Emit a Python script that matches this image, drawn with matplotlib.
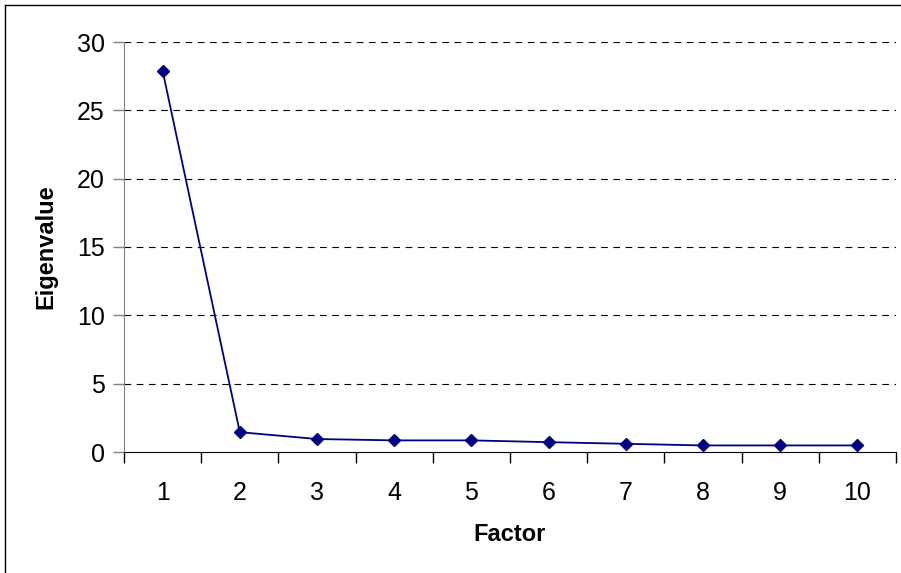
import matplotlib.pyplot as plt
from matplotlib.lines import Line2D

factors = [1, 2, 3, 4, 5, 6, 7, 8, 9, 10]
eigenvalues = [27.9, 1.45, 0.95, 0.85, 0.85, 0.72, 0.6, 0.48, 0.48, 0.48]
y_ticks = [0, 5, 10, 15, 20, 25, 30]

plt.rcParams['font.family'] = ['Liberation Sans', 'DejaVu Sans']

fig = plt.figure(figsize=(9.01, 5.73), dpi=100)
ax = fig.add_axes([124 / 901, 1 - 452 / 573, (896 - 124) / 901, (452 - 42) / 573])

ax.plot(factors, eigenvalues, color='#000080', linewidth=1.3,
        marker='D', markersize=6.5, markerfacecolor='#000080', markeredgecolor='#000080')

ax.set_xlim(0.5, 10.5)
ax.set_ylim(0, 30)
ax.set_yticks(y_ticks)
ax.set_xticks([f - 0.5 for f in factors] + [10.5])
ax.set_xticklabels([])
ax.set_xticks(factors, minor=True)
ax.set_xticklabels([str(f) for f in factors], minor=True)
ax.tick_params(axis='x', which='minor', length=0, pad=21, labelsize=18)
ax.tick_params(axis='x', which='major', length=8, width=1, color='black', direction='out')
ax.tick_params(axis='y', length=8, width=1, color='#808080', labelsize=18, pad=6)

for y in y_ticks[1:]:
    ax.axhline(y, color='black', linestyle=(0, (6, 5)), linewidth=0.8, zorder=0)

for side in ['top', 'right']:
    ax.spines[side].set_visible(False)
ax.spines['left'].set_color('#808080')
ax.spines['bottom'].set_color('black')

ax.set_xlabel('Factor', fontsize=17, fontweight='bold', labelpad=13)
ax.set_ylabel('Eigenvalue', fontsize=17, fontweight='bold', labelpad=14)

# chart border (only left and top are in the picture)
fig.add_artist(Line2D([5 / 901, 5 / 901], [0, 1 - 5 / 573], transform=fig.transFigure, color='black', linewidth=1))
fig.add_artist(Line2D([5 / 901, 1], [1 - 5 / 573, 1 - 5 / 573], transform=fig.transFigure, color='black', linewidth=1))

fig.savefig('out.png', dpi=100)
